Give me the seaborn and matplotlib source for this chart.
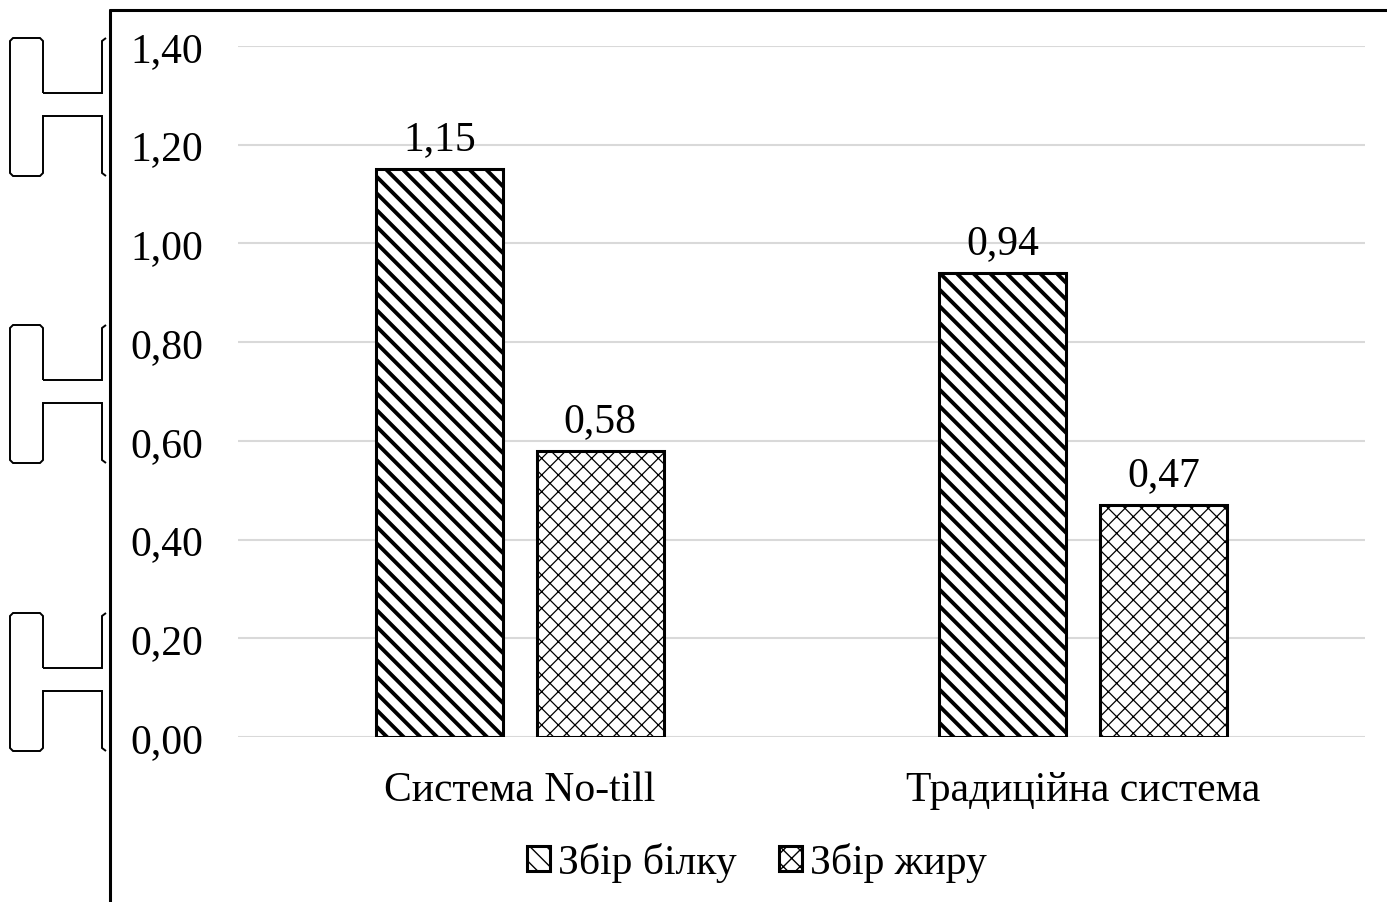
import matplotlib
matplotlib.use("Agg")
import matplotlib.pyplot as plt
import seaborn as sns
import pandas as pd
from matplotlib.path import Path
from matplotlib.patches import PathPatch
from matplotlib.lines import Line2D

categories = ["Система No-till", "Традиційна система"]
series_names = ["Збір білку", "Збір жиру"]
protein = [1.15, 0.94]
fat = [0.58, 0.47]
yticks = [0.0, 0.2, 0.4, 0.6, 0.8, 1.0, 1.2, 1.4]

rows = []
for c, p, f in zip(categories, protein, fat):
    rows.append({"cat": c, "series": series_names[0], "val": p})
    rows.append({"cat": c, "series": series_names[1], "val": f})
df = pd.DataFrame(rows)

sns.set_theme(style="white")
plt.rcParams["font.family"] = ["Liberation Serif", "DejaVu Serif"]
plt.rcParams["hatch.color"] = "black"
plt.rcParams["text.color"] = "black"

FS = 30
W, H = 1387, 903
fig = plt.figure(figsize=(W / 100, H / 100), dpi=100)
fig.patch.set_facecolor("white")

def fx(x):
    return x / W

def fy(y):
    return 1 - y / H

ax = fig.add_axes([fx(238), fy(738), fx(1365) - fx(238), fy(47) - fy(738)])

sns.barplot(data=df, x="cat", y="val", hue="series", palette=["white", "white"],
            edgecolor="black", linewidth=2.2, width=0.571, gap=0.211,
            ax=ax, legend=True, zorder=3)

hatches = ["\\\\", "xx"]
hlw = [2.8, 0.9]
for cont, h, lw in zip(ax.containers, hatches, hlw):
    for bar in cont:
        bar.set_hatch(h)
        if hasattr(bar, "set_hatch_linewidth"):
            bar.set_hatch_linewidth(lw)

for cont in ax.containers:
    ax.bar_label(cont, labels=[f"{v:.2f}".replace(".", ",") for v in cont.datavalues],
                 padding=8, fontsize=FS, color="black")

ax.set_ylim(0, 1.4)
ax.set_xlim(-0.5, 1.5)
ax.set_yticks(yticks)
ax.set_yticklabels([f"{v:.2f}".replace(".", ",") for v in yticks])
ax.tick_params(axis="y", length=0, pad=25, labelsize=FS, labelcolor="black")
ax.tick_params(axis="x", length=0, pad=24, labelsize=FS, labelcolor="black")
ax.set_xlabel("")
ax.set_ylabel("")
ax.yaxis.grid(True, color="#d9d9d9", linewidth=1.5, zorder=0)
ax.set_axisbelow(True)
for s in ax.spines.values():
    s.set_visible(False)

handles, labels = ax.get_legend_handles_labels()
for hd, h, lw in zip(handles, hatches, hlw):
    hd.set_hatch(h)
    if hasattr(hd, "set_hatch_linewidth"):
        hd.set_hatch_linewidth(lw * 0.6)
ax.legend_.remove()
fig.legend(handles, labels, loc="center", bbox_to_anchor=(fx(757), fy(863)),
           ncol=2, frameon=False, fontsize=FS, handlelength=0.55, handleheight=0.55,
           handletextpad=0.2, columnspacing=1.0, borderaxespad=0, labelcolor="black")

# frame of the scanned chart area
fig.add_artist(Line2D([fx(110), fx(110)], [fy(11), fy(903)], color="black", lw=2.2))
fig.add_artist(Line2D([fx(110), fx(1387)], [fy(11), fy(11)], color="black", lw=2.2))

# binder-hole artefacts at the left edge of the scan
def hole(top):
    b = top + 138
    u = top + 55
    l = top + 78
    pts_left = [(43, u), (43, top + 3), (40, top), (13, top), (10, top + 3),
                (10, b - 3), (13, b), (40, b), (43, b - 3), (43, l), (102, l), (102, b - 3), (106, b)]
    pts_top = [(43, u), (102, u), (102, top + 3), (106, top)]
    for pts in (pts_left, pts_top):
        verts = [(fx(x), fy(y)) for x, y in pts]
        codes = [Path.MOVETO] + [Path.LINETO] * (len(verts) - 1)
        fig.add_artist(PathPatch(Path(verts, codes), fill=False, edgecolor="black",
                                 lw=1.4, transform=fig.transFigure))

for t in (39, 326, 614):
    hole(t)

fig.savefig("out.png", dpi=100, facecolor="white")
